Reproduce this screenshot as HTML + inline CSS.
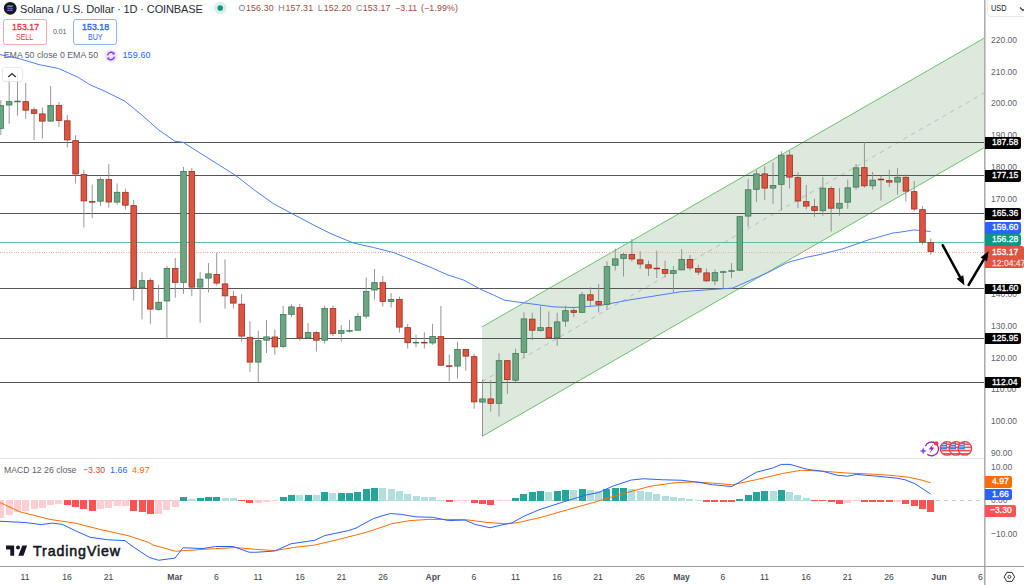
<!DOCTYPE html>
<html><head><meta charset="utf-8"><style>
html,body{margin:0;padding:0;background:#fff;width:1024px;height:585px;overflow:hidden}
body{position:relative;font-family:"Liberation Sans",sans-serif;}
svg{position:absolute;left:0;top:0}
.t{position:absolute;white-space:nowrap;line-height:1}
</style></head><body>
<svg width="1024" height="585" viewBox="0 0 1024 585" shape-rendering="crispEdges">

<polygon points="482,326.9 984,38.25 984,147.75 482,436.4" fill="#dee9dd" shape-rendering="geometricPrecision"/>
<line x1="482" y1="326.9" x2="984" y2="38.25" stroke="#6cc070" stroke-width="1" shape-rendering="geometricPrecision"/>
<line x1="482" y1="436.4" x2="984" y2="147.75" stroke="#6cc070" stroke-width="1" shape-rendering="geometricPrecision"/>
<line x1="482" y1="381.65" x2="984" y2="93.00" stroke="#b9bdc0" stroke-width="1" stroke-dasharray="4.5,4.5" shape-rendering="geometricPrecision"/>
<rect x="0" y="142" width="984" height="1" fill="#555"/>
<rect x="0" y="175" width="984" height="1" fill="#555"/>
<rect x="0" y="213" width="984" height="1" fill="#555"/>
<rect x="0" y="288" width="984" height="1" fill="#555"/>
<rect x="0" y="338" width="984" height="1" fill="#555"/>
<rect x="0" y="382" width="984" height="1" fill="#555"/>
<rect x="0" y="242" width="984" height="1" fill="#5cbaa5"/>
<line x1="0" y1="252.5" x2="984" y2="252.5" stroke="#f2aca4" stroke-width="1" stroke-dasharray="1,1,1,1,1,2"/>
<polyline points="0,54.6 19.5,58.7 39,64.6 58.6,68.5 78.1,77.3 90,84.75 106.25,91.9 125,101.25 142.5,115.6 158.75,130 175,141.25 183.1,142.25 198.75,152.25 235,175 256,191.25 273.5,203.75 292.25,213.75 316,226.25 331,233.75 353.5,243 373.5,247.5 393.5,252.5 412.5,260 431,267.5 448,275 463.5,280 481,289.5 493.5,295 504,300 512,301.25 554,306.9 574,307.5 600,305.5 629,300 680,291.9 696,290.6 732.5,288.1 768,272.5 787.5,262.5 808,256.9 818,255 843,248.75 868,240 893,233 900,232.2 913.75,229.9 930.6,231.5" fill="none" stroke="#4678f6" stroke-width="0.95" shape-rendering="geometricPrecision"/>
<g shape-rendering="geometricPrecision">
<rect x="0.40" y="100.00" width="0.9" height="35.00" fill="#8c8c8c"/>
<rect x="-1.95" y="105.65" width="5.6" height="22.70" fill="#6ba583" stroke="#3f7a56" stroke-width="0.8"/>
<rect x="8.70" y="79.00" width="0.9" height="44.75" fill="#8c8c8c"/>
<rect x="6.35" y="101.65" width="5.6" height="3.35" fill="#6ba583" stroke="#3f7a56" stroke-width="0.8"/>
<rect x="17.01" y="74.00" width="0.9" height="41.60" fill="#8c8c8c"/>
<rect x="14.26" y="100.75" width="6.4" height="1.5" fill="#3f7a56"/>
<rect x="25.31" y="83.00" width="0.9" height="35.75" fill="#8c8c8c"/>
<rect x="22.96" y="101.65" width="5.6" height="8.55" fill="#dd5440" stroke="#9c2f22" stroke-width="0.8"/>
<rect x="33.61" y="107.50" width="0.9" height="32.50" fill="#8c8c8c"/>
<rect x="31.26" y="109.80" width="5.6" height="3.55" fill="#dd5440" stroke="#9c2f22" stroke-width="0.8"/>
<rect x="41.91" y="107.50" width="0.9" height="31.00" fill="#8c8c8c"/>
<rect x="39.56" y="113.90" width="5.6" height="7.20" fill="#dd5440" stroke="#9c2f22" stroke-width="0.8"/>
<rect x="50.22" y="86.00" width="0.9" height="35.50" fill="#8c8c8c"/>
<rect x="47.87" y="105.40" width="5.6" height="15.70" fill="#6ba583" stroke="#3f7a56" stroke-width="0.8"/>
<rect x="58.52" y="101.90" width="0.9" height="25.00" fill="#8c8c8c"/>
<rect x="56.17" y="105.40" width="5.6" height="15.10" fill="#dd5440" stroke="#9c2f22" stroke-width="0.8"/>
<rect x="66.82" y="115.00" width="0.9" height="32.50" fill="#8c8c8c"/>
<rect x="64.47" y="120.80" width="5.6" height="19.10" fill="#dd5440" stroke="#9c2f22" stroke-width="0.8"/>
<rect x="75.13" y="135.25" width="0.9" height="48.25" fill="#8c8c8c"/>
<rect x="72.78" y="140.65" width="5.6" height="33.35" fill="#dd5440" stroke="#9c2f22" stroke-width="0.8"/>
<rect x="83.43" y="169.75" width="0.9" height="57.75" fill="#8c8c8c"/>
<rect x="81.08" y="174.50" width="5.6" height="26.40" fill="#dd5440" stroke="#9c2f22" stroke-width="0.8"/>
<rect x="91.73" y="184.60" width="0.9" height="33.40" fill="#8c8c8c"/>
<rect x="88.98" y="201.12" width="6.4" height="1.5" fill="#9c2f22"/>
<rect x="100.04" y="177.25" width="0.9" height="28.75" fill="#8c8c8c"/>
<rect x="97.69" y="179.50" width="5.6" height="21.70" fill="#6ba583" stroke="#3f7a56" stroke-width="0.8"/>
<rect x="108.34" y="164.10" width="0.9" height="43.65" fill="#8c8c8c"/>
<rect x="105.99" y="179.50" width="5.6" height="22.50" fill="#dd5440" stroke="#9c2f22" stroke-width="0.8"/>
<rect x="116.64" y="183.50" width="0.9" height="21.25" fill="#8c8c8c"/>
<rect x="114.29" y="192.30" width="5.6" height="9.80" fill="#6ba583" stroke="#3f7a56" stroke-width="0.8"/>
<rect x="124.95" y="188.75" width="0.9" height="20.65" fill="#8c8c8c"/>
<rect x="122.60" y="192.30" width="5.6" height="12.90" fill="#dd5440" stroke="#9c2f22" stroke-width="0.8"/>
<rect x="133.25" y="200.00" width="0.9" height="100.60" fill="#8c8c8c"/>
<rect x="130.90" y="205.65" width="5.6" height="82.05" fill="#dd5440" stroke="#9c2f22" stroke-width="0.8"/>
<rect x="141.55" y="271.90" width="0.9" height="47.50" fill="#8c8c8c"/>
<rect x="139.20" y="280.65" width="5.6" height="7.05" fill="#6ba583" stroke="#3f7a56" stroke-width="0.8"/>
<rect x="149.85" y="278.10" width="0.9" height="45.65" fill="#8c8c8c"/>
<rect x="147.50" y="280.65" width="5.6" height="28.45" fill="#dd5440" stroke="#9c2f22" stroke-width="0.8"/>
<rect x="158.16" y="285.00" width="0.9" height="25.60" fill="#8c8c8c"/>
<rect x="155.81" y="302.30" width="5.6" height="7.05" fill="#6ba583" stroke="#3f7a56" stroke-width="0.8"/>
<rect x="166.46" y="266.00" width="0.9" height="73.40" fill="#8c8c8c"/>
<rect x="164.11" y="268.50" width="5.6" height="32.50" fill="#6ba583" stroke="#3f7a56" stroke-width="0.8"/>
<rect x="174.76" y="258.00" width="0.9" height="39.75" fill="#8c8c8c"/>
<rect x="172.41" y="268.50" width="5.6" height="13.85" fill="#dd5440" stroke="#9c2f22" stroke-width="0.8"/>
<rect x="183.07" y="166.90" width="0.9" height="126.85" fill="#8c8c8c"/>
<rect x="180.72" y="171.40" width="5.6" height="110.95" fill="#6ba583" stroke="#3f7a56" stroke-width="0.8"/>
<rect x="191.37" y="168.10" width="0.9" height="128.15" fill="#8c8c8c"/>
<rect x="189.02" y="171.40" width="5.6" height="115.70" fill="#dd5440" stroke="#9c2f22" stroke-width="0.8"/>
<rect x="199.67" y="271.90" width="0.9" height="50.85" fill="#8c8c8c"/>
<rect x="197.32" y="279.15" width="5.6" height="7.95" fill="#6ba583" stroke="#3f7a56" stroke-width="0.8"/>
<rect x="207.98" y="263.10" width="0.9" height="29.40" fill="#8c8c8c"/>
<rect x="205.63" y="273.90" width="5.6" height="4.20" fill="#6ba583" stroke="#3f7a56" stroke-width="0.8"/>
<rect x="216.28" y="252.50" width="0.9" height="33.10" fill="#8c8c8c"/>
<rect x="213.93" y="274.40" width="5.6" height="8.70" fill="#dd5440" stroke="#9c2f22" stroke-width="0.8"/>
<rect x="224.58" y="259.40" width="0.9" height="49.35" fill="#8c8c8c"/>
<rect x="222.23" y="283.90" width="5.6" height="11.95" fill="#dd5440" stroke="#9c2f22" stroke-width="0.8"/>
<rect x="232.88" y="290.60" width="0.9" height="17.90" fill="#8c8c8c"/>
<rect x="230.53" y="296.65" width="5.6" height="6.45" fill="#dd5440" stroke="#9c2f22" stroke-width="0.8"/>
<rect x="241.19" y="294.00" width="0.9" height="47.90" fill="#8c8c8c"/>
<rect x="238.84" y="304.15" width="5.6" height="31.95" fill="#dd5440" stroke="#9c2f22" stroke-width="0.8"/>
<rect x="249.49" y="321.25" width="0.9" height="50.65" fill="#8c8c8c"/>
<rect x="247.14" y="337.30" width="5.6" height="24.80" fill="#dd5440" stroke="#9c2f22" stroke-width="0.8"/>
<rect x="257.79" y="330.60" width="0.9" height="51.40" fill="#8c8c8c"/>
<rect x="255.44" y="340.65" width="5.6" height="21.45" fill="#6ba583" stroke="#3f7a56" stroke-width="0.8"/>
<rect x="266.10" y="320.00" width="0.9" height="33.00" fill="#8c8c8c"/>
<rect x="263.75" y="336.90" width="5.6" height="3.30" fill="#6ba583" stroke="#3f7a56" stroke-width="0.8"/>
<rect x="274.40" y="329.40" width="0.9" height="25.35" fill="#8c8c8c"/>
<rect x="272.05" y="337.00" width="5.6" height="9.85" fill="#dd5440" stroke="#9c2f22" stroke-width="0.8"/>
<rect x="282.70" y="306.00" width="0.9" height="42.10" fill="#8c8c8c"/>
<rect x="280.35" y="314.50" width="5.6" height="32.00" fill="#6ba583" stroke="#3f7a56" stroke-width="0.8"/>
<rect x="291.01" y="304.40" width="0.9" height="12.85" fill="#8c8c8c"/>
<rect x="288.66" y="306.90" width="5.6" height="7.45" fill="#6ba583" stroke="#3f7a56" stroke-width="0.8"/>
<rect x="299.31" y="304.00" width="0.9" height="36.60" fill="#8c8c8c"/>
<rect x="296.96" y="307.65" width="5.6" height="30.05" fill="#dd5440" stroke="#9c2f22" stroke-width="0.8"/>
<rect x="307.61" y="323.10" width="0.9" height="15.90" fill="#8c8c8c"/>
<rect x="305.26" y="332.50" width="5.6" height="5.20" fill="#6ba583" stroke="#3f7a56" stroke-width="0.8"/>
<rect x="315.91" y="331.25" width="0.9" height="20.25" fill="#8c8c8c"/>
<rect x="313.56" y="332.65" width="5.6" height="7.55" fill="#dd5440" stroke="#9c2f22" stroke-width="0.8"/>
<rect x="324.22" y="305.60" width="0.9" height="38.15" fill="#8c8c8c"/>
<rect x="321.87" y="308.50" width="5.6" height="31.70" fill="#6ba583" stroke="#3f7a56" stroke-width="0.8"/>
<rect x="332.52" y="305.60" width="0.9" height="30.65" fill="#8c8c8c"/>
<rect x="330.17" y="308.50" width="5.6" height="24.85" fill="#dd5440" stroke="#9c2f22" stroke-width="0.8"/>
<rect x="340.82" y="325.00" width="0.9" height="16.50" fill="#8c8c8c"/>
<rect x="338.47" y="330.65" width="5.6" height="2.70" fill="#6ba583" stroke="#3f7a56" stroke-width="0.8"/>
<rect x="349.13" y="319.75" width="0.9" height="13.00" fill="#8c8c8c"/>
<rect x="346.38" y="330.12" width="6.4" height="1.5" fill="#3f7a56"/>
<rect x="357.43" y="312.80" width="0.9" height="17.80" fill="#8c8c8c"/>
<rect x="355.08" y="316.50" width="5.6" height="13.70" fill="#6ba583" stroke="#3f7a56" stroke-width="0.8"/>
<rect x="365.73" y="277.50" width="0.9" height="41.25" fill="#8c8c8c"/>
<rect x="363.38" y="291.40" width="5.6" height="24.70" fill="#6ba583" stroke="#3f7a56" stroke-width="0.8"/>
<rect x="374.04" y="269.00" width="0.9" height="30.40" fill="#8c8c8c"/>
<rect x="371.69" y="282.65" width="5.6" height="7.35" fill="#6ba583" stroke="#3f7a56" stroke-width="0.8"/>
<rect x="382.34" y="276.00" width="0.9" height="30.50" fill="#8c8c8c"/>
<rect x="379.99" y="282.65" width="5.6" height="18.85" fill="#dd5440" stroke="#9c2f22" stroke-width="0.8"/>
<rect x="390.64" y="293.10" width="0.9" height="14.40" fill="#8c8c8c"/>
<rect x="388.29" y="299.50" width="5.6" height="2.00" fill="#6ba583" stroke="#3f7a56" stroke-width="0.8"/>
<rect x="398.94" y="296.50" width="0.9" height="36.00" fill="#8c8c8c"/>
<rect x="396.59" y="299.50" width="5.6" height="27.60" fill="#dd5440" stroke="#9c2f22" stroke-width="0.8"/>
<rect x="407.25" y="324.00" width="0.9" height="24.50" fill="#8c8c8c"/>
<rect x="404.90" y="327.65" width="5.6" height="15.05" fill="#dd5440" stroke="#9c2f22" stroke-width="0.8"/>
<rect x="415.55" y="334.75" width="0.9" height="12.50" fill="#8c8c8c"/>
<rect x="412.80" y="341.90" width="6.4" height="1.5" fill="#3f7a56"/>
<rect x="423.85" y="332.25" width="0.9" height="16.25" fill="#8c8c8c"/>
<rect x="421.10" y="341.90" width="6.4" height="1.5" fill="#9c2f22"/>
<rect x="432.16" y="323.75" width="0.9" height="21.00" fill="#8c8c8c"/>
<rect x="429.81" y="336.40" width="5.6" height="6.60" fill="#6ba583" stroke="#3f7a56" stroke-width="0.8"/>
<rect x="440.46" y="306.00" width="0.9" height="59.60" fill="#8c8c8c"/>
<rect x="438.11" y="336.65" width="5.6" height="28.55" fill="#dd5440" stroke="#9c2f22" stroke-width="0.8"/>
<rect x="448.76" y="354.40" width="0.9" height="26.85" fill="#8c8c8c"/>
<rect x="446.01" y="365.30" width="6.4" height="1.5" fill="#9c2f22"/>
<rect x="457.07" y="341.90" width="0.9" height="36.60" fill="#8c8c8c"/>
<rect x="454.72" y="349.40" width="5.6" height="16.70" fill="#6ba583" stroke="#3f7a56" stroke-width="0.8"/>
<rect x="465.37" y="349.00" width="0.9" height="21.60" fill="#8c8c8c"/>
<rect x="463.02" y="349.40" width="5.6" height="6.70" fill="#dd5440" stroke="#9c2f22" stroke-width="0.8"/>
<rect x="473.67" y="353.75" width="0.9" height="55.00" fill="#8c8c8c"/>
<rect x="471.32" y="356.65" width="5.6" height="45.20" fill="#dd5440" stroke="#9c2f22" stroke-width="0.8"/>
<rect x="481.97" y="379.40" width="0.9" height="56.60" fill="#8c8c8c"/>
<rect x="479.62" y="398.90" width="5.6" height="3.20" fill="#6ba583" stroke="#3f7a56" stroke-width="0.8"/>
<rect x="490.28" y="380.25" width="0.9" height="31.25" fill="#8c8c8c"/>
<rect x="487.93" y="398.90" width="5.6" height="4.45" fill="#dd5440" stroke="#9c2f22" stroke-width="0.8"/>
<rect x="498.58" y="353.10" width="0.9" height="63.40" fill="#8c8c8c"/>
<rect x="496.23" y="360.65" width="5.6" height="42.70" fill="#6ba583" stroke="#3f7a56" stroke-width="0.8"/>
<rect x="506.88" y="360.00" width="0.9" height="34.00" fill="#8c8c8c"/>
<rect x="504.53" y="360.65" width="5.6" height="18.95" fill="#dd5440" stroke="#9c2f22" stroke-width="0.8"/>
<rect x="515.19" y="348.75" width="0.9" height="33.50" fill="#8c8c8c"/>
<rect x="512.84" y="353.50" width="5.6" height="26.70" fill="#6ba583" stroke="#3f7a56" stroke-width="0.8"/>
<rect x="523.49" y="312.25" width="0.9" height="45.85" fill="#8c8c8c"/>
<rect x="521.14" y="318.90" width="5.6" height="33.45" fill="#6ba583" stroke="#3f7a56" stroke-width="0.8"/>
<rect x="531.79" y="312.75" width="0.9" height="27.50" fill="#8c8c8c"/>
<rect x="529.44" y="319.15" width="5.6" height="11.05" fill="#dd5440" stroke="#9c2f22" stroke-width="0.8"/>
<rect x="540.10" y="306.25" width="0.9" height="25.25" fill="#8c8c8c"/>
<rect x="537.75" y="327.65" width="5.6" height="2.95" fill="#6ba583" stroke="#3f7a56" stroke-width="0.8"/>
<rect x="548.40" y="311.50" width="0.9" height="26.50" fill="#8c8c8c"/>
<rect x="546.05" y="327.65" width="5.6" height="10.05" fill="#dd5440" stroke="#9c2f22" stroke-width="0.8"/>
<rect x="556.70" y="312.75" width="0.9" height="33.25" fill="#8c8c8c"/>
<rect x="554.35" y="321.90" width="5.6" height="15.80" fill="#6ba583" stroke="#3f7a56" stroke-width="0.8"/>
<rect x="565.00" y="305.60" width="0.9" height="21.30" fill="#8c8c8c"/>
<rect x="562.65" y="310.65" width="5.6" height="10.45" fill="#6ba583" stroke="#3f7a56" stroke-width="0.8"/>
<rect x="573.31" y="306.90" width="0.9" height="10.00" fill="#8c8c8c"/>
<rect x="570.96" y="310.65" width="5.6" height="1.70" fill="#dd5440" stroke="#9c2f22" stroke-width="0.8"/>
<rect x="581.61" y="291.90" width="0.9" height="20.85" fill="#8c8c8c"/>
<rect x="579.26" y="294.80" width="5.6" height="17.55" fill="#6ba583" stroke="#3f7a56" stroke-width="0.8"/>
<rect x="589.91" y="287.25" width="0.9" height="19.65" fill="#8c8c8c"/>
<rect x="587.56" y="294.80" width="5.6" height="5.40" fill="#dd5440" stroke="#9c2f22" stroke-width="0.8"/>
<rect x="598.22" y="284.00" width="0.9" height="28.50" fill="#8c8c8c"/>
<rect x="595.87" y="301.40" width="5.6" height="2.95" fill="#dd5440" stroke="#9c2f22" stroke-width="0.8"/>
<rect x="606.52" y="261.25" width="0.9" height="48.75" fill="#8c8c8c"/>
<rect x="604.17" y="266.65" width="5.6" height="37.70" fill="#6ba583" stroke="#3f7a56" stroke-width="0.8"/>
<rect x="614.82" y="248.50" width="0.9" height="22.10" fill="#8c8c8c"/>
<rect x="612.47" y="258.90" width="5.6" height="6.30" fill="#6ba583" stroke="#3f7a56" stroke-width="0.8"/>
<rect x="623.12" y="253.10" width="0.9" height="23.40" fill="#8c8c8c"/>
<rect x="620.77" y="254.40" width="5.6" height="3.95" fill="#6ba583" stroke="#3f7a56" stroke-width="0.8"/>
<rect x="631.43" y="239.00" width="0.9" height="22.50" fill="#8c8c8c"/>
<rect x="629.08" y="254.40" width="5.6" height="4.60" fill="#dd5440" stroke="#9c2f22" stroke-width="0.8"/>
<rect x="639.73" y="251.25" width="0.9" height="17.50" fill="#8c8c8c"/>
<rect x="637.38" y="259.80" width="5.6" height="4.20" fill="#dd5440" stroke="#9c2f22" stroke-width="0.8"/>
<rect x="648.03" y="260.60" width="0.9" height="15.40" fill="#8c8c8c"/>
<rect x="645.68" y="264.80" width="5.6" height="3.30" fill="#dd5440" stroke="#9c2f22" stroke-width="0.8"/>
<rect x="656.34" y="250.60" width="0.9" height="27.50" fill="#8c8c8c"/>
<rect x="653.59" y="267.75" width="6.4" height="1.5" fill="#9c2f22"/>
<rect x="664.64" y="260.60" width="0.9" height="16.90" fill="#8c8c8c"/>
<rect x="662.29" y="269.40" width="5.6" height="3.95" fill="#dd5440" stroke="#9c2f22" stroke-width="0.8"/>
<rect x="672.94" y="266.00" width="0.9" height="26.25" fill="#8c8c8c"/>
<rect x="670.59" y="270.65" width="5.6" height="2.70" fill="#6ba583" stroke="#3f7a56" stroke-width="0.8"/>
<rect x="681.25" y="249.00" width="0.9" height="21.25" fill="#8c8c8c"/>
<rect x="678.90" y="259.40" width="5.6" height="10.45" fill="#6ba583" stroke="#3f7a56" stroke-width="0.8"/>
<rect x="689.55" y="255.00" width="0.9" height="15.40" fill="#8c8c8c"/>
<rect x="687.20" y="259.40" width="5.6" height="8.50" fill="#dd5440" stroke="#9c2f22" stroke-width="0.8"/>
<rect x="697.85" y="264.75" width="0.9" height="10.25" fill="#8c8c8c"/>
<rect x="695.50" y="268.50" width="5.6" height="3.60" fill="#dd5440" stroke="#9c2f22" stroke-width="0.8"/>
<rect x="706.16" y="268.75" width="0.9" height="13.15" fill="#8c8c8c"/>
<rect x="703.81" y="272.90" width="5.6" height="7.95" fill="#dd5440" stroke="#9c2f22" stroke-width="0.8"/>
<rect x="714.46" y="269.40" width="0.9" height="15.85" fill="#8c8c8c"/>
<rect x="712.11" y="272.65" width="5.6" height="8.20" fill="#6ba583" stroke="#3f7a56" stroke-width="0.8"/>
<rect x="722.76" y="270.60" width="0.9" height="18.15" fill="#8c8c8c"/>
<rect x="720.01" y="271.25" width="6.4" height="1.5" fill="#3f7a56"/>
<rect x="731.06" y="263.10" width="0.9" height="15.00" fill="#8c8c8c"/>
<rect x="728.31" y="270.25" width="6.4" height="1.5" fill="#3f7a56"/>
<rect x="739.37" y="216.00" width="0.9" height="54.60" fill="#8c8c8c"/>
<rect x="737.02" y="216.65" width="5.6" height="53.55" fill="#6ba583" stroke="#3f7a56" stroke-width="0.8"/>
<rect x="747.67" y="179.00" width="0.9" height="47.90" fill="#8c8c8c"/>
<rect x="745.32" y="189.80" width="5.6" height="26.30" fill="#6ba583" stroke="#3f7a56" stroke-width="0.8"/>
<rect x="755.97" y="170.00" width="0.9" height="31.90" fill="#8c8c8c"/>
<rect x="753.62" y="173.90" width="5.6" height="15.45" fill="#6ba583" stroke="#3f7a56" stroke-width="0.8"/>
<rect x="764.28" y="166.25" width="0.9" height="33.75" fill="#8c8c8c"/>
<rect x="761.93" y="173.90" width="5.6" height="14.20" fill="#dd5440" stroke="#9c2f22" stroke-width="0.8"/>
<rect x="772.58" y="162.25" width="0.9" height="41.50" fill="#8c8c8c"/>
<rect x="770.23" y="185.40" width="5.6" height="2.70" fill="#6ba583" stroke="#3f7a56" stroke-width="0.8"/>
<rect x="780.88" y="151.25" width="0.9" height="59.15" fill="#8c8c8c"/>
<rect x="778.53" y="155.15" width="5.6" height="29.20" fill="#6ba583" stroke="#3f7a56" stroke-width="0.8"/>
<rect x="789.19" y="150.60" width="0.9" height="37.90" fill="#8c8c8c"/>
<rect x="786.84" y="155.15" width="5.6" height="21.95" fill="#dd5440" stroke="#9c2f22" stroke-width="0.8"/>
<rect x="797.49" y="172.25" width="0.9" height="35.85" fill="#8c8c8c"/>
<rect x="795.14" y="177.65" width="5.6" height="23.35" fill="#dd5440" stroke="#9c2f22" stroke-width="0.8"/>
<rect x="805.79" y="185.00" width="0.9" height="24.40" fill="#8c8c8c"/>
<rect x="803.44" y="201.65" width="5.6" height="4.45" fill="#dd5440" stroke="#9c2f22" stroke-width="0.8"/>
<rect x="814.09" y="198.75" width="0.9" height="18.15" fill="#8c8c8c"/>
<rect x="811.74" y="206.65" width="5.6" height="3.95" fill="#dd5440" stroke="#9c2f22" stroke-width="0.8"/>
<rect x="822.40" y="176.90" width="0.9" height="38.70" fill="#8c8c8c"/>
<rect x="820.05" y="188.15" width="5.6" height="22.55" fill="#6ba583" stroke="#3f7a56" stroke-width="0.8"/>
<rect x="830.70" y="186.25" width="0.9" height="45.25" fill="#8c8c8c"/>
<rect x="828.35" y="188.50" width="5.6" height="19.70" fill="#dd5440" stroke="#9c2f22" stroke-width="0.8"/>
<rect x="839.00" y="188.10" width="0.9" height="27.50" fill="#8c8c8c"/>
<rect x="836.65" y="203.30" width="5.6" height="4.90" fill="#6ba583" stroke="#3f7a56" stroke-width="0.8"/>
<rect x="847.31" y="179.60" width="0.9" height="29.15" fill="#8c8c8c"/>
<rect x="844.96" y="187.80" width="5.6" height="14.40" fill="#6ba583" stroke="#3f7a56" stroke-width="0.8"/>
<rect x="855.61" y="164.00" width="0.9" height="25.75" fill="#8c8c8c"/>
<rect x="853.26" y="167.80" width="5.6" height="19.30" fill="#6ba583" stroke="#3f7a56" stroke-width="0.8"/>
<rect x="863.91" y="142.25" width="0.9" height="45.50" fill="#8c8c8c"/>
<rect x="861.56" y="167.65" width="5.6" height="18.20" fill="#dd5440" stroke="#9c2f22" stroke-width="0.8"/>
<rect x="872.22" y="171.90" width="0.9" height="17.85" fill="#8c8c8c"/>
<rect x="869.87" y="180.15" width="5.6" height="5.70" fill="#6ba583" stroke="#3f7a56" stroke-width="0.8"/>
<rect x="880.52" y="175.60" width="0.9" height="25.00" fill="#8c8c8c"/>
<rect x="877.77" y="178.75" width="6.4" height="1.5" fill="#9c2f22"/>
<rect x="888.82" y="169.75" width="0.9" height="17.15" fill="#8c8c8c"/>
<rect x="886.47" y="180.65" width="5.6" height="1.45" fill="#dd5440" stroke="#9c2f22" stroke-width="0.8"/>
<rect x="897.12" y="168.10" width="0.9" height="26.65" fill="#8c8c8c"/>
<rect x="894.77" y="177.30" width="5.6" height="4.80" fill="#6ba583" stroke="#3f7a56" stroke-width="0.8"/>
<rect x="905.43" y="174.40" width="0.9" height="27.10" fill="#8c8c8c"/>
<rect x="903.08" y="177.30" width="5.6" height="13.80" fill="#dd5440" stroke="#9c2f22" stroke-width="0.8"/>
<rect x="913.73" y="181.00" width="0.9" height="30.25" fill="#8c8c8c"/>
<rect x="911.38" y="191.65" width="5.6" height="17.35" fill="#dd5440" stroke="#9c2f22" stroke-width="0.8"/>
<rect x="922.03" y="206.00" width="0.9" height="38.60" fill="#8c8c8c"/>
<rect x="919.68" y="209.65" width="5.6" height="32.45" fill="#dd5440" stroke="#9c2f22" stroke-width="0.8"/>
<rect x="930.34" y="238.60" width="0.9" height="16.10" fill="#8c8c8c"/>
<rect x="927.99" y="242.60" width="5.6" height="8.90" fill="#dd5440" stroke="#9c2f22" stroke-width="0.8"/>
</g>
<rect x="0" y="458" width="984" height="1" fill="#e0e3eb"/>
<line x1="0" y1="500.5" x2="984" y2="500.5" stroke="#c8cbd3" stroke-width="1" stroke-dasharray="4,4"/>
<rect x="-3" y="500" width="7" height="18" fill="#ffcdd2"/>
<rect x="6" y="500" width="7" height="15" fill="#ffcdd2"/>
<rect x="14" y="500" width="7" height="12" fill="#ffcdd2"/>
<rect x="22" y="500" width="7" height="11" fill="#ffcdd2"/>
<rect x="31" y="500" width="7" height="9" fill="#ffcdd2"/>
<rect x="39" y="500" width="7" height="8" fill="#ffcdd2"/>
<rect x="47" y="500" width="7" height="5" fill="#ffcdd2"/>
<rect x="55" y="500" width="7" height="4" fill="#ffcdd2"/>
<rect x="64" y="500" width="7" height="5" fill="#ff5252"/>
<rect x="72" y="500" width="7" height="7" fill="#ff5252"/>
<rect x="80" y="500" width="7" height="9" fill="#ff5252"/>
<rect x="89" y="500" width="7" height="11" fill="#ff5252"/>
<rect x="97" y="500" width="7" height="9" fill="#ffcdd2"/>
<rect x="105" y="500" width="7" height="8" fill="#ffcdd2"/>
<rect x="114" y="500" width="7" height="6" fill="#ffcdd2"/>
<rect x="122" y="500" width="7" height="6" fill="#ffcdd2"/>
<rect x="130" y="500" width="7" height="11" fill="#ff5252"/>
<rect x="139" y="500" width="7" height="12" fill="#ff5252"/>
<rect x="147" y="500" width="7" height="14" fill="#ff5252"/>
<rect x="155" y="500" width="7" height="14" fill="#ffcdd2"/>
<rect x="163" y="500" width="7" height="10" fill="#ffcdd2"/>
<rect x="172" y="500" width="7" height="7" fill="#ffcdd2"/>
<rect x="180" y="497" width="7" height="4" fill="#26a69a"/>
<rect x="188" y="499" width="7" height="2" fill="#b2dfdb"/>
<rect x="197" y="498" width="7" height="3" fill="#26a69a"/>
<rect x="205" y="497" width="7" height="4" fill="#26a69a"/>
<rect x="213" y="497" width="7" height="4" fill="#26a69a"/>
<rect x="222" y="498" width="7" height="3" fill="#b2dfdb"/>
<rect x="230" y="498" width="7" height="3" fill="#b2dfdb"/>
<rect x="238" y="500" width="7" height="1" fill="#ff5252"/>
<rect x="246" y="500" width="7" height="3" fill="#ff5252"/>
<rect x="255" y="500" width="7" height="3" fill="#ffcdd2"/>
<rect x="263" y="500" width="7" height="2" fill="#ffcdd2"/>
<rect x="271" y="500" width="7" height="1" fill="#ffcdd2"/>
<rect x="280" y="497" width="7" height="4" fill="#26a69a"/>
<rect x="288" y="495" width="7" height="6" fill="#26a69a"/>
<rect x="296" y="495" width="7" height="6" fill="#b2dfdb"/>
<rect x="305" y="495" width="7" height="6" fill="#26a69a"/>
<rect x="313" y="495" width="7" height="6" fill="#b2dfdb"/>
<rect x="321" y="492" width="7" height="9" fill="#26a69a"/>
<rect x="329" y="493" width="7" height="8" fill="#b2dfdb"/>
<rect x="338" y="493" width="7" height="8" fill="#26a69a"/>
<rect x="346" y="493" width="7" height="8" fill="#26a69a"/>
<rect x="354" y="492" width="7" height="9" fill="#26a69a"/>
<rect x="363" y="489" width="7" height="12" fill="#26a69a"/>
<rect x="371" y="488" width="7" height="13" fill="#26a69a"/>
<rect x="379" y="488" width="7" height="13" fill="#b2dfdb"/>
<rect x="388" y="489" width="7" height="12" fill="#b2dfdb"/>
<rect x="396" y="491" width="7" height="10" fill="#b2dfdb"/>
<rect x="404" y="494" width="7" height="7" fill="#b2dfdb"/>
<rect x="413" y="496" width="7" height="5" fill="#b2dfdb"/>
<rect x="421" y="497" width="7" height="4" fill="#b2dfdb"/>
<rect x="429" y="497" width="7" height="4" fill="#b2dfdb"/>
<rect x="437" y="500" width="7" height="1" fill="#b2dfdb"/>
<rect x="446" y="500" width="7" height="2" fill="#ff5252"/>
<rect x="454" y="500" width="7" height="1" fill="#ffcdd2"/>
<rect x="462" y="500" width="7" height="1" fill="#ffcdd2"/>
<rect x="471" y="500" width="7" height="3" fill="#ff5252"/>
<rect x="479" y="500" width="7" height="4" fill="#ff5252"/>
<rect x="487" y="500" width="7" height="5" fill="#ff5252"/>
<rect x="496" y="500" width="7" height="1" fill="#ffcdd2"/>
<rect x="504" y="500" width="7" height="1" fill="#ffcdd2"/>
<rect x="512" y="498" width="7" height="3" fill="#26a69a"/>
<rect x="520" y="494" width="7" height="7" fill="#26a69a"/>
<rect x="529" y="492" width="7" height="9" fill="#26a69a"/>
<rect x="537" y="491" width="7" height="10" fill="#26a69a"/>
<rect x="545" y="492" width="7" height="9" fill="#b2dfdb"/>
<rect x="554" y="491" width="7" height="10" fill="#26a69a"/>
<rect x="562" y="490" width="7" height="11" fill="#26a69a"/>
<rect x="570" y="490" width="7" height="11" fill="#b2dfdb"/>
<rect x="579" y="489" width="7" height="12" fill="#26a69a"/>
<rect x="587" y="490" width="7" height="11" fill="#b2dfdb"/>
<rect x="595" y="491" width="7" height="10" fill="#b2dfdb"/>
<rect x="603" y="489" width="7" height="12" fill="#26a69a"/>
<rect x="612" y="488" width="7" height="13" fill="#26a69a"/>
<rect x="620" y="488" width="7" height="13" fill="#26a69a"/>
<rect x="628" y="489" width="7" height="12" fill="#b2dfdb"/>
<rect x="637" y="491" width="7" height="10" fill="#b2dfdb"/>
<rect x="645" y="492" width="7" height="9" fill="#b2dfdb"/>
<rect x="653" y="494" width="7" height="7" fill="#b2dfdb"/>
<rect x="662" y="496" width="7" height="5" fill="#b2dfdb"/>
<rect x="670" y="497" width="7" height="4" fill="#b2dfdb"/>
<rect x="678" y="498" width="7" height="3" fill="#b2dfdb"/>
<rect x="686" y="499" width="7" height="2" fill="#b2dfdb"/>
<rect x="695" y="500" width="7" height="1" fill="#b2dfdb"/>
<rect x="703" y="500" width="7" height="2" fill="#ff5252"/>
<rect x="711" y="500" width="7" height="2" fill="#ff5252"/>
<rect x="720" y="500" width="7" height="2" fill="#ff5252"/>
<rect x="728" y="500" width="7" height="2" fill="#ff5252"/>
<rect x="736" y="499" width="7" height="2" fill="#26a69a"/>
<rect x="745" y="495" width="7" height="6" fill="#26a69a"/>
<rect x="753" y="492" width="7" height="9" fill="#26a69a"/>
<rect x="761" y="491" width="7" height="10" fill="#26a69a"/>
<rect x="770" y="491" width="7" height="10" fill="#b2dfdb"/>
<rect x="778" y="490" width="7" height="11" fill="#26a69a"/>
<rect x="786" y="492" width="7" height="9" fill="#b2dfdb"/>
<rect x="794" y="495" width="7" height="6" fill="#b2dfdb"/>
<rect x="803" y="498" width="7" height="3" fill="#b2dfdb"/>
<rect x="811" y="500" width="7" height="1" fill="#ff5252"/>
<rect x="819" y="500" width="7" height="1" fill="#ff5252"/>
<rect x="828" y="500" width="7" height="2" fill="#ff5252"/>
<rect x="836" y="500" width="7" height="4" fill="#ff5252"/>
<rect x="844" y="500" width="7" height="3" fill="#ffcdd2"/>
<rect x="853" y="500" width="7" height="1" fill="#ffcdd2"/>
<rect x="861" y="500" width="7" height="2" fill="#ff5252"/>
<rect x="869" y="500" width="7" height="2" fill="#ff5252"/>
<rect x="877" y="500" width="7" height="2" fill="#ff5252"/>
<rect x="886" y="500" width="7" height="2" fill="#ff5252"/>
<rect x="894" y="500" width="7" height="2" fill="#ffcdd2"/>
<rect x="902" y="500" width="7" height="4" fill="#ff5252"/>
<rect x="911" y="500" width="7" height="6" fill="#ff5252"/>
<rect x="919" y="500" width="7" height="9" fill="#ff5252"/>
<rect x="927" y="500" width="7" height="12" fill="#ff5252"/>
<polyline points="0,502.5 20,511.9 50,519.4 75,523.1 100,529.4 128,535.6 148.75,542.5 153,545 175.5,551.25 203,549.4 235.5,547.5 256,549.4 274.75,550.6 293.5,547.5 314.75,545 337.25,539.75 364.75,532.75 384,526.5 391.25,523.75 410,520.6 428.75,519.4 447.5,519.4 466.25,519.75 488,522.5 505,523.75 517.5,522.75 542.5,516.9 567.5,509.75 592.5,502.75 608,498.1 625,493.1 650,486.25 675,482.75 693.75,481.9 712.5,483.1 732.5,484.75 757.5,479.4 782.5,473.5 801.25,470.25 820,471 848,473.1 865,473.75 890,475.25 908.75,477.25 921.25,480 930.6,482.75" fill="none" stroke="#ff6d00" stroke-width="1" shape-rendering="geometricPrecision"/>
<polyline points="0,521.25 25,522.5 41.25,524.6 52.5,523.1 62.5,524.4 75,530.6 90,537.25 107.5,539.75 125,540.6 128,543.1 134.25,547.5 149.25,557.5 158.6,560.25 175,558.1 183,547.75 203,548.5 215.5,546.5 233,546.5 249.25,552.25 256,552.25 274.75,551 291,543.75 314.75,540.25 324.75,535.6 348.5,530.6 356,528.1 373.5,518.5 384,515.25 390.6,513.5 401.25,514.4 416.25,516.9 432.5,517.25 448.75,520.6 465,520 475,524.4 490,527.75 501.5,525 511.5,523 524,516.25 539,509.8 567.5,500.6 586.25,495 598.75,492.5 612.5,486.25 631.25,480 643.75,478.75 662.5,479.75 681.25,480.25 700,482.5 712.5,484.75 731.9,486.5 756.25,472.25 772.5,468.1 781.25,464.4 790,464.4 807.5,469.4 822.5,471.25 837.5,475.25 847.5,476.25 856.25,474.4 877.5,476.25 896.25,478.1 905,479.75 915,483.75 930.6,494" fill="none" stroke="#2962ff" stroke-width="1" shape-rendering="geometricPrecision"/>
<rect x="984" y="0" width="1" height="585" fill="#adadad"/>
<rect x="985" y="0" width="1" height="585" fill="#d0d0d0"/>
<rect x="0" y="566" width="1024" height="1" fill="#9c9c9c"/>
</svg>
<div class="t" style="left:991px;top:34.84px;font-size:9.4px;color:#5d606b;font-weight:normal;transform:scaleX(0.905);transform-origin:0 0;">220.00</div>
<div class="t" style="left:991px;top:66.61px;font-size:9.4px;color:#5d606b;font-weight:normal;transform:scaleX(0.905);transform-origin:0 0;">210.00</div>
<div class="t" style="left:991px;top:98.38px;font-size:9.4px;color:#5d606b;font-weight:normal;transform:scaleX(0.905);transform-origin:0 0;">200.00</div>
<div class="t" style="left:991px;top:130.15px;font-size:9.4px;color:#5d606b;font-weight:normal;transform:scaleX(0.905);transform-origin:0 0;">190.00</div>
<div class="t" style="left:991px;top:161.92px;font-size:9.4px;color:#5d606b;font-weight:normal;transform:scaleX(0.905);transform-origin:0 0;">180.00</div>
<div class="t" style="left:991px;top:193.69px;font-size:9.4px;color:#5d606b;font-weight:normal;transform:scaleX(0.905);transform-origin:0 0;">170.00</div>
<div class="t" style="left:991px;top:225.46px;font-size:9.4px;color:#5d606b;font-weight:normal;transform:scaleX(0.905);transform-origin:0 0;">160.00</div>
<div class="t" style="left:991px;top:257.23px;font-size:9.4px;color:#5d606b;font-weight:normal;transform:scaleX(0.905);transform-origin:0 0;">150.00</div>
<div class="t" style="left:991px;top:289.00px;font-size:9.4px;color:#5d606b;font-weight:normal;transform:scaleX(0.905);transform-origin:0 0;">140.00</div>
<div class="t" style="left:991px;top:320.77px;font-size:9.4px;color:#5d606b;font-weight:normal;transform:scaleX(0.905);transform-origin:0 0;">130.00</div>
<div class="t" style="left:991px;top:352.54px;font-size:9.4px;color:#5d606b;font-weight:normal;transform:scaleX(0.905);transform-origin:0 0;">120.00</div>
<div class="t" style="left:991px;top:384.31px;font-size:9.4px;color:#5d606b;font-weight:normal;transform:scaleX(0.905);transform-origin:0 0;">110.00</div>
<div class="t" style="left:991px;top:416.08px;font-size:9.4px;color:#5d606b;font-weight:normal;transform:scaleX(0.905);transform-origin:0 0;">100.00</div>
<div class="t" style="left:991px;top:447.85px;font-size:9.4px;color:#5d606b;font-weight:normal;transform:scaleX(0.905);transform-origin:0 0;">90.00</div>
<div style="position:absolute;left:985px;top:137px;width:36px;height:12px;background:#000;border-radius:0 2px 2px 0"></div>
<div class="t" style="left:992px;top:138.33px;font-size:9.3px;color:#fff;font-weight:normal;transform:scaleX(0.92);transform-origin:0 0;-webkit-text-stroke:0.3px #fff">187.58</div>
<div style="position:absolute;left:985px;top:169.6px;width:36px;height:12px;background:#000;border-radius:0 2px 2px 0"></div>
<div class="t" style="left:992px;top:170.93px;font-size:9.3px;color:#fff;font-weight:normal;transform:scaleX(0.92);transform-origin:0 0;-webkit-text-stroke:0.3px #fff">177.15</div>
<div style="position:absolute;left:985px;top:207.5px;width:36px;height:12px;background:#000;border-radius:0 2px 2px 0"></div>
<div class="t" style="left:992px;top:208.83px;font-size:9.3px;color:#fff;font-weight:normal;transform:scaleX(0.92);transform-origin:0 0;-webkit-text-stroke:0.3px #fff">165.36</div>
<div style="position:absolute;left:985px;top:221.5px;width:36px;height:12px;background:#2962ff;border-radius:0 2px 2px 0"></div>
<div class="t" style="left:992px;top:222.83px;font-size:9.3px;color:#fff;font-weight:normal;transform:scaleX(0.92);transform-origin:0 0;-webkit-text-stroke:0.3px #fff">159.60</div>
<div style="position:absolute;left:985px;top:234.2px;width:36px;height:11.5px;background:#089981;border-radius:0 2px 2px 0"></div>
<div class="t" style="left:992px;top:235.28px;font-size:9.3px;color:#fff;font-weight:normal;transform:scaleX(0.92);transform-origin:0 0;-webkit-text-stroke:0.3px #fff">156.28</div>
<div style="position:absolute;left:985px;top:246.2px;width:39px;height:22px;background:#dd5440;border-radius:0 2px 2px 0"></div>
<div class="t" style="left:992px;top:247.83px;font-size:9.3px;color:#fff;font-weight:normal;transform:scaleX(0.92);transform-origin:0 0;-webkit-text-stroke:0.3px #fff">153.17</div>
<div class="t" style="left:992px;top:258.83px;font-size:9.3px;color:#f8d8d2;font-weight:normal;transform:scaleX(0.92);transform-origin:0 0;-webkit-text-stroke:0.3px #f8d8d2">12:04:47</div>
<div style="position:absolute;left:985px;top:283.7px;width:36px;height:10.5px;background:#000;border-radius:0 2px 2px 0"></div>
<div class="t" style="left:992px;top:284.28px;font-size:9.3px;color:#fff;font-weight:normal;transform:scaleX(0.92);transform-origin:0 0;-webkit-text-stroke:0.3px #fff">141.60</div>
<div style="position:absolute;left:985px;top:333px;width:36px;height:10.5px;background:#000;border-radius:0 2px 2px 0"></div>
<div class="t" style="left:992px;top:333.58px;font-size:9.3px;color:#fff;font-weight:normal;transform:scaleX(0.92);transform-origin:0 0;-webkit-text-stroke:0.3px #fff">125.95</div>
<div style="position:absolute;left:985px;top:377px;width:36px;height:10.5px;background:#000;border-radius:0 2px 2px 0"></div>
<div class="t" style="left:992px;top:377.58px;font-size:9.3px;color:#fff;font-weight:normal;transform:scaleX(0.92);transform-origin:0 0;-webkit-text-stroke:0.3px #fff">112.04</div>
<div class="t" style="left:991px;top:461.54px;font-size:9.4px;color:#5d606b;font-weight:normal;transform:scaleX(0.905);transform-origin:0 0;">10.00</div>
<div class="t" style="left:991px;top:529.04px;font-size:9.4px;color:#5d606b;font-weight:normal;transform:scaleX(0.905);transform-origin:0 0;">&minus;10.00</div>
<div class="t" style="left:991px;top:495.04px;font-size:9.4px;color:#5d606b;font-weight:normal;transform:scaleX(0.905);transform-origin:0 0;">0.00</div>
<div style="position:absolute;left:985px;top:476px;width:27px;height:12px;background:#ff6d00;border-radius:0 2px 2px 0"></div>
<div class="t" style="left:992px;top:477.43px;font-size:9.3px;color:#fff;font-weight:normal;transform:scaleX(0.92);transform-origin:0 0;-webkit-text-stroke:0.3px #fff">4.97</div>
<div style="position:absolute;left:985px;top:489px;width:27px;height:11px;background:#2962ff;border-radius:0 2px 2px 0"></div>
<div class="t" style="left:992px;top:489.83px;font-size:9.3px;color:#fff;font-weight:normal;transform:scaleX(0.92);transform-origin:0 0;-webkit-text-stroke:0.3px #fff">1.66</div>
<div style="position:absolute;left:985px;top:505px;width:31px;height:12px;background:#ff5252;border-radius:0 2px 2px 0"></div>
<div class="t" style="left:990px;top:506.43px;font-size:9.3px;color:#fff;font-weight:normal;transform:scaleX(0.92);transform-origin:0 0;-webkit-text-stroke:0.3px #fff">&minus;3.30</div>
<div style="position:absolute;left:987px;top:-2px;width:40px;height:17.4px;border:1px solid #e6e8ec;border-radius:4px;background:#fff"></div>
<div class="t" style="left:990.8px;top:4.47px;font-size:8.9px;color:#131722;font-weight:normal;transform:scaleX(0.83);transform-origin:0 0;">USD</div>
<svg width="8" height="6" style="left:1019px;top:6px" viewBox="0 0 8 6"><path d="M1 1.5L4 4.5 7 1.5" stroke="#333" stroke-width="1.2" fill="none"/></svg>
<div class="t" style="left:5px;width:40px;text-align:center;top:572.7px;font-size:8.6px;color:#3b3e48;font-weight:normal">11</div>
<div class="t" style="left:47px;width:40px;text-align:center;top:572.7px;font-size:8.6px;color:#3b3e48;font-weight:normal">16</div>
<div class="t" style="left:88.5px;width:40px;text-align:center;top:572.7px;font-size:8.6px;color:#3b3e48;font-weight:normal">21</div>
<div class="t" style="left:155px;width:40px;text-align:center;top:572.7px;font-size:8.6px;color:#4a4d57;font-weight:bold">Mar</div>
<div class="t" style="left:196.5px;width:40px;text-align:center;top:572.7px;font-size:8.6px;color:#3b3e48;font-weight:normal">6</div>
<div class="t" style="left:238px;width:40px;text-align:center;top:572.7px;font-size:8.6px;color:#3b3e48;font-weight:normal">11</div>
<div class="t" style="left:280px;width:40px;text-align:center;top:572.7px;font-size:8.6px;color:#3b3e48;font-weight:normal">16</div>
<div class="t" style="left:321.5px;width:40px;text-align:center;top:572.7px;font-size:8.6px;color:#3b3e48;font-weight:normal">21</div>
<div class="t" style="left:363px;width:40px;text-align:center;top:572.7px;font-size:8.6px;color:#3b3e48;font-weight:normal">26</div>
<div class="t" style="left:413px;width:40px;text-align:center;top:572.7px;font-size:8.6px;color:#4a4d57;font-weight:bold">Apr</div>
<div class="t" style="left:454px;width:40px;text-align:center;top:572.7px;font-size:8.6px;color:#3b3e48;font-weight:normal">6</div>
<div class="t" style="left:495.5px;width:40px;text-align:center;top:572.7px;font-size:8.6px;color:#3b3e48;font-weight:normal">11</div>
<div class="t" style="left:537px;width:40px;text-align:center;top:572.7px;font-size:8.6px;color:#3b3e48;font-weight:normal">16</div>
<div class="t" style="left:578px;width:40px;text-align:center;top:572.7px;font-size:8.6px;color:#3b3e48;font-weight:normal">21</div>
<div class="t" style="left:620px;width:40px;text-align:center;top:572.7px;font-size:8.6px;color:#3b3e48;font-weight:normal">26</div>
<div class="t" style="left:661.5px;width:40px;text-align:center;top:572.7px;font-size:8.6px;color:#4a4d57;font-weight:bold">May</div>
<div class="t" style="left:703px;width:40px;text-align:center;top:572.7px;font-size:8.6px;color:#3b3e48;font-weight:normal">6</div>
<div class="t" style="left:744.5px;width:40px;text-align:center;top:572.7px;font-size:8.6px;color:#3b3e48;font-weight:normal">11</div>
<div class="t" style="left:786px;width:40px;text-align:center;top:572.7px;font-size:8.6px;color:#3b3e48;font-weight:normal">16</div>
<div class="t" style="left:827.5px;width:40px;text-align:center;top:572.7px;font-size:8.6px;color:#3b3e48;font-weight:normal">21</div>
<div class="t" style="left:869px;width:40px;text-align:center;top:572.7px;font-size:8.6px;color:#3b3e48;font-weight:normal">26</div>
<div class="t" style="left:919px;width:40px;text-align:center;top:572.7px;font-size:8.6px;color:#4a4d57;font-weight:bold">Jun</div>
<div class="t" style="left:960.5px;width:40px;text-align:center;top:572.7px;font-size:8.6px;color:#3b3e48;font-weight:normal">6</div>
<svg width="20" height="20" style="left:2px;top:0px" viewBox="0 0 20 20"><circle cx="8.2" cy="8.3" r="6.4" fill="#131722"/><g stroke-width="1.2"><path d="M5.8 5.6h5.6l-1.2 1.1H4.6z" fill="#4fd1b4" stroke="none"/><path d="M4.6 7.7h5.6l1.2 1.1H5.8z" fill="#7d7ae6" stroke="none"/><path d="M5.8 9.8h5.6l-1.2 1.1H4.6z" fill="#a64ff0" stroke="none"/></g></svg>
<div class="t" style="left:20px;top:3.5px;font-size:11px;color:#2a2e39;font-weight:normal;letter-spacing:-0.12px">Solana / U.S. Dollar · 1D · COINBASE</div>
<svg width="16" height="16" style="left:212px;top:0px" viewBox="0 0 16 16"><circle cx="8.2" cy="8" r="6.3" fill="#d7efe9"/><circle cx="8.2" cy="8" r="2.8" fill="#089981"/></svg>
<div class="t" style="left:238.6px;top:4.05px;font-size:8.8px;color:#7b7e88;font-weight:normal;transform:scaleX(1.0);transform-origin:0 0;letter-spacing:0.15px">O</div>
<div class="t" style="left:246px;top:4.05px;font-size:8.8px;color:#9a4b45;font-weight:normal;transform:scaleX(1.0);transform-origin:0 0;letter-spacing:0.15px">156.30</div>
<div class="t" style="left:278.3px;top:4.05px;font-size:8.8px;color:#7b7e88;font-weight:normal;transform:scaleX(1.0);transform-origin:0 0;letter-spacing:0.15px">H</div>
<div class="t" style="left:285.4px;top:4.05px;font-size:8.8px;color:#9a4b45;font-weight:normal;transform:scaleX(1.0);transform-origin:0 0;letter-spacing:0.15px">157.31</div>
<div class="t" style="left:317.7px;top:4.05px;font-size:8.8px;color:#7b7e88;font-weight:normal;transform:scaleX(1.0);transform-origin:0 0;letter-spacing:0.15px">L</div>
<div class="t" style="left:323.7px;top:4.05px;font-size:8.8px;color:#9a4b45;font-weight:normal;transform:scaleX(1.0);transform-origin:0 0;letter-spacing:0.15px">152.20</div>
<div class="t" style="left:355.9px;top:4.05px;font-size:8.8px;color:#7b7e88;font-weight:normal;transform:scaleX(1.0);transform-origin:0 0;letter-spacing:0.15px">C</div>
<div class="t" style="left:362.7px;top:4.05px;font-size:8.8px;color:#9a4b45;font-weight:normal;transform:scaleX(1.0);transform-origin:0 0;letter-spacing:0.15px">153.17</div>
<div class="t" style="left:395px;top:4.05px;font-size:8.8px;color:#9a4b45;font-weight:normal;transform:scaleX(1.0);transform-origin:0 0;letter-spacing:0.15px">&minus;3.11</div>
<div class="t" style="left:421px;top:4.05px;font-size:8.8px;color:#9a4b45;font-weight:normal;transform:scaleX(1.0);transform-origin:0 0;letter-spacing:0.15px">(&minus;1.99%)</div>
<div style="position:absolute;left:3px;top:19px;width:42px;height:24px;border:1px solid #f7a9a9;border-radius:3px"></div>
<div class="t" style="left:11.5px;top:22.81px;font-size:9.2px;color:#f23645;font-weight:normal;transform:scaleX(0.95);transform-origin:0 0;letter-spacing:0.1px;-webkit-text-stroke:0.35px #f23645">153.17</div>
<div class="t" style="left:16.2px;top:33.38px;font-size:9px;color:#f23645;font-weight:normal;transform:scaleX(0.78);transform-origin:0 0;">SELL</div>
<div class="t" style="left:53px;top:27.5px;font-size:7.2px;color:#5d606b;font-weight:normal;letter-spacing:-0.2px">0.01</div>
<div style="position:absolute;left:73px;top:19px;width:42px;height:24px;border:1px solid #8fb0ff;border-radius:3px"></div>
<div class="t" style="left:82px;top:22.81px;font-size:9.2px;color:#2962ff;font-weight:normal;transform:scaleX(0.95);transform-origin:0 0;letter-spacing:0.1px;-webkit-text-stroke:0.35px #2962ff">153.18</div>
<div class="t" style="left:87.5px;top:33.38px;font-size:9px;color:#2962ff;font-weight:normal;transform:scaleX(0.78);transform-origin:0 0;">BUY</div>
<div class="t" style="left:3.7px;top:51px;font-size:8.8px;color:#5d606b;font-weight:normal;">EMA 50 close 0 EMA 50</div>
<svg width="14" height="14" style="left:103.5px;top:49px" viewBox="0 0 14 14"><circle cx="7" cy="7" r="6.5" fill="#ece3fd"/><path d="M3.6 6.3a3.5 3.5 0 0 1 6.3-1.6M10.4 7.7a3.5 3.5 0 0 1-6.3 1.6" stroke="#7b2ff7" stroke-width="1.3" fill="none"/><path d="M10.6 3.2v2.4h-2.4zM3.4 10.8V8.4h2.4z" fill="#7b2ff7"/></svg>
<div class="t" style="left:122.5px;top:51px;font-size:9px;color:#2962ff;font-weight:normal;letter-spacing:0.1px">159.60</div>
<div style="position:absolute;left:2px;top:67px;width:19px;height:13px;border:1px solid #e6e8ee;border-radius:3px;background:rgba(255,255,255,0.75)"></div>
<svg width="10" height="6" style="left:7px;top:71.5px" viewBox="0 0 10 6"><path d="M1.3 5L5 1.6 8.7 5" stroke="#333" stroke-width="1.4" fill="none"/></svg>
<div class="t" style="left:3.5px;top:466.00px;font-size:9.1px;color:#5d606b;font-weight:normal;transform:scaleX(0.955);transform-origin:0 0;">MACD 12 26 close</div>
<div class="t" style="left:83px;top:466.00px;font-size:9.1px;color:#f23645;font-weight:normal;transform:scaleX(0.96);transform-origin:0 0;">&minus;3.30</div>
<div class="t" style="left:110px;top:466.00px;font-size:9.1px;color:#2962ff;font-weight:normal;transform:scaleX(0.98);transform-origin:0 0;">1.66</div>
<div class="t" style="left:132px;top:466.00px;font-size:9.1px;color:#ff6d00;font-weight:normal;transform:scaleX(1.0);transform-origin:0 0;">4.97</div>
<svg width="1024" height="585" style="left:0;top:0" viewBox="0 0 1024 585"><path d="M6 545.4H14.15V555.85H10.3V549.4H6Z" fill="#131722"/><circle cx="18" cy="547.5" r="2" fill="#131722"/><path d="M22.3 545.4H27.1L23.5 555.85H18.3Z" fill="#131722"/></svg>
<div class="t" style="left:33px;top:543.6px;font-size:14.2px;color:#131722;font-weight:normal;letter-spacing:0.9px;-webkit-text-stroke:0.55px #131722">TradingView</div>
<svg width="1024" height="585" style="left:0;top:0" viewBox="0 0 1024 585"><defs><clipPath id="fc0"><circle cx="947" cy="448.4" r="6.3"/></clipPath><clipPath id="fc1"><circle cx="956" cy="448.4" r="6.3"/></clipPath><clipPath id="fc2"><circle cx="964.8" cy="448.4" r="6.3"/></clipPath></defs><path d="M925.3 446.2 A6.9 6.9 0 1 1 927.2 454.2" fill="none" stroke="#9c27b0" stroke-width="1.3"/><path d="M933.6 443.6 L928.6 449.6 L931.4 449.6 L929.4 453.6 L934.4 447.4 L931.6 447.4 Z" fill="#9c27b0"/><path d="M923.2 447.2 L924.2 449.9 L926.9 450.9 L924.2 451.9 L923.2 454.6 L922.2 451.9 L919.5 450.9 L922.2 449.9 Z" fill="#7c4dff"/><circle cx="936.2" cy="443.4" r="2.2" fill="#f23645"/><g clip-path="url(#fc0)"><rect x="940" y="441" width="14" height="15" fill="#fff"/><rect x="940" y="443.4" width="14" height="1.6" fill="#ef4f4a"/><rect x="940" y="446.6" width="14" height="1.6" fill="#ef4f4a"/><rect x="940" y="449.8" width="14" height="1.6" fill="#ef4f4a"/><rect x="940" y="453.0" width="14" height="1.6" fill="#ef4f4a"/><rect x="940" y="441" width="7" height="8.4" fill="#3a86e0"/><rect x="941.5" y="444.2" width="4.5" height="0.8" fill="#d7e6fa"/><rect x="941.5" y="446.4" width="4.5" height="0.8" fill="#d7e6fa"/></g><circle cx="947" cy="448.4" r="6.8" fill="none" stroke="#f23645" stroke-width="1.3"/><g clip-path="url(#fc1)"><rect x="949" y="441" width="14" height="15" fill="#fff"/><rect x="949" y="443.4" width="14" height="1.6" fill="#ef4f4a"/><rect x="949" y="446.6" width="14" height="1.6" fill="#ef4f4a"/><rect x="949" y="449.8" width="14" height="1.6" fill="#ef4f4a"/><rect x="949" y="453.0" width="14" height="1.6" fill="#ef4f4a"/><rect x="949" y="441" width="7" height="8.4" fill="#3a86e0"/><rect x="950.5" y="444.2" width="4.5" height="0.8" fill="#d7e6fa"/><rect x="950.5" y="446.4" width="4.5" height="0.8" fill="#d7e6fa"/></g><circle cx="956" cy="448.4" r="6.8" fill="none" stroke="#f23645" stroke-width="1.3"/><g clip-path="url(#fc2)"><rect x="957.8" y="441" width="14" height="15" fill="#fff"/><rect x="957.8" y="443.4" width="14" height="1.6" fill="#ef4f4a"/><rect x="957.8" y="446.6" width="14" height="1.6" fill="#ef4f4a"/><rect x="957.8" y="449.8" width="14" height="1.6" fill="#ef4f4a"/><rect x="957.8" y="453.0" width="14" height="1.6" fill="#ef4f4a"/><rect x="957.8" y="441" width="7" height="8.4" fill="#3a86e0"/><rect x="959.3" y="444.2" width="4.5" height="0.8" fill="#d7e6fa"/><rect x="959.3" y="446.4" width="4.5" height="0.8" fill="#d7e6fa"/></g><circle cx="964.8" cy="448.4" r="6.8" fill="none" stroke="#f23645" stroke-width="1.3"/></svg>
<svg width="1024" height="585" style="left:0;top:0" viewBox="0 0 1024 585"><line x1="942.7" y1="245.2" x2="960.45" y2="277.93" stroke="#000" stroke-width="2.5" stroke-linecap="round"/><polygon points="964.5,285.4 956.63,278.86 963.31,275.24" fill="#000"/><line x1="968.6" y1="285" x2="984.27" y2="258.52" stroke="#000" stroke-width="2.5" stroke-linecap="round"/><polygon points="988.6,251.2 987.03,261.31 980.49,257.44" fill="#000"/></svg>
<svg width="1024" height="585" style="left:0;top:0" viewBox="0 0 1024 585"><path d="M1004.1999999999999 576.9 L1006.8 572.4 L1012.0 572.4 L1014.6 576.9 L1012.0 581.4 L1006.8 581.4 Z" fill="none" stroke="#2a2e39" stroke-width="1"/><circle cx="1009.4" cy="576.9" r="1.5" fill="none" stroke="#2a2e39" stroke-width="0.9"/></svg>
</body></html>
